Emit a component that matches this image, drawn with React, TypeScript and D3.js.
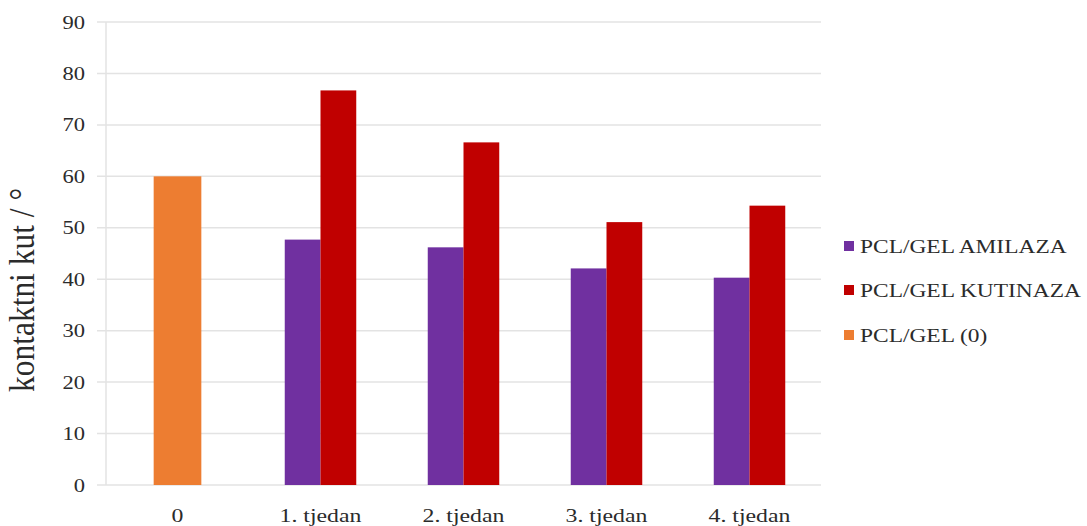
import React from "react";
import * as d3 from "d3";

const categories = ["0", "1. tjedan", "2. tjedan", "3. tjedan", "4. tjedan"];
const amilaza = [null, 47.7, 46.2, 42.1, 40.3];
const kutinaza = [null, 76.7, 66.6, 51.1, 54.3];
const pclGel0 = [60, null, null, null, null];
const yTicks = [0, 10, 20, 30, 40, 50, 60, 70, 80, 90];
const seriesNames = ["PCL/GEL AMILAZA", "PCL/GEL KUTINAZA", "PCL/GEL (0)"];
const seriesColors = ["#7030A0", "#C00000", "#ED7D31"];
const yTitle = "kontaktni kut / °";

const W = 1087;
const H = 526;
const SX = 1.22;
const FONT = "'Liberation Serif', 'Times New Roman', serif";
const TEXT = "#2b2b2b";

export default function App() {
  const x = d3.scaleBand<string>().domain(categories).range([106, 821]).padding(0);
  const y = d3.scaleLinear().domain([0, 90]).range([485, 22]);
  const bw = x.bandwidth();
  const pair = d3.scaleBand<string>().domain(["a", "k"]).range([0, bw]).paddingInner(0).paddingOuter(1);
  const single = d3.scaleBand<string>().domain(["o"]).range([0, bw]).paddingInner(0).paddingOuter(1);

  const bars: { x: number; w: number; v: number; c: string }[] = [];
  categories.forEach((cat, i) => {
    const x0 = x(cat)!;
    if (pclGel0[i] != null) bars.push({ x: x0 + single("o")!, w: single.bandwidth(), v: pclGel0[i] as number, c: seriesColors[2] });
    if (amilaza[i] != null) bars.push({ x: x0 + pair("a")!, w: pair.bandwidth(), v: amilaza[i] as number, c: seriesColors[0] });
    if (kutinaza[i] != null) bars.push({ x: x0 + pair("k")!, w: pair.bandwidth(), v: kutinaza[i] as number, c: seriesColors[1] });
  });

  const legendY = [246, 290, 335];

  return (
    <svg width={W} height={H} style={{ position: "absolute", left: 0, top: 0, background: "#fff" }} fontFamily={FONT}>
      <rect x={0} y={0} width={W} height={H} fill="#fff" />
      {yTicks.map((t) => (
        <g key={t}>
          <line x1={97} x2={821} y1={y(t)} y2={y(t)} stroke="#e3e3e3" strokeWidth={1.5} />
          <text transform={`translate(85,${y(t) + 6.5}) scale(${SX},1)`} textAnchor="end" fontSize={18.5} fill={TEXT}>
            {t}
          </text>
        </g>
      ))}
      <line x1={106} x2={106} y1={y(90)} y2={y(0)} stroke="#e3e3e3" strokeWidth={1.5} />
      {bars.map((b, i) => (
        <rect key={i} x={b.x} y={y(b.v)} width={b.w} height={y(0) - y(b.v)} fill={b.c} />
      ))}
      {categories.map((c) => (
        <text key={c} transform={`translate(${x(c)! + bw / 2},522) scale(${SX},1)`} textAnchor="middle" fontSize={19.5} fill={TEXT}>
          {c}
        </text>
      ))}
      <text transform={`translate(34,290) scale(1.12,1) rotate(-90)`} textAnchor="middle" fontSize={31.5} fill={TEXT}>
        {yTitle}
      </text>
      {seriesNames.map((n, i) => (
        <g key={n}>
          <rect x={844} y={legendY[i] - 5} width={10} height={10} fill={seriesColors[i]} />
          <text transform={`translate(860,${legendY[i] + 7}) scale(${SX},1)`} fontSize={19.2} fill={TEXT}>
            {n}
          </text>
        </g>
      ))}
    </svg>
  );
}
